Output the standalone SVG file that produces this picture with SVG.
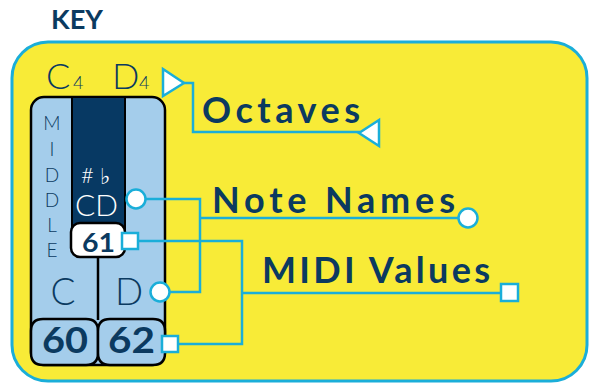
<svg xmlns="http://www.w3.org/2000/svg" width="589" height="383" viewBox="0 0 589 383">
<style>
.lbl{font-family:"Lato","Liberation Sans",sans-serif;font-weight:700;fill:#0b3a60;}
.thin{font-family:"Lato","Open Sans",sans-serif;font-weight:300;fill:#0b3a60;}
.thinw{font-family:"Lato","Open Sans",sans-serif;font-weight:300;fill:#ffffff;}
.num{font-family:"Lato","Liberation Sans",sans-serif;font-weight:700;fill:#0b3a60;}
.con{fill:none;stroke:#1aaed9;stroke-width:2.5;}
.end{fill:#ffffff;stroke:#1aaed9;stroke-width:2.5;}
.edge{stroke:#000;stroke-width:2.5;}
</style>
<rect width="589" height="383" fill="#ffffff"/>
<text class="lbl" x="51" y="29" font-size="27" textLength="52" lengthAdjust="spacingAndGlyphs">KEY</text>
<g id="panel">
<rect x="12" y="42" width="575" height="339" rx="36" fill="#f8eb37" stroke="#1aaed9" stroke-width="3"/>
</g>
<g id="octave-labels">
<text class="thin" x="46" y="89" font-size="36">C</text>
<text class="thin" x="73" y="89" font-size="18">4</text>
<text class="thin" x="112" y="89" font-size="36">D</text>
<text class="thin" x="139" y="89" font-size="18">4</text>
</g>
<g id="keys">
<rect x="31" y="97" width="134" height="268" rx="13" fill="#a4cdeb" class="edge"/>
<rect x="72" y="97" width="53" height="140" fill="#073963" stroke="#000" stroke-width="2"/>
<line x1="98" y1="255" x2="98" y2="320" class="edge"/>
<path d="M31 331 Q31 319 43 319 H86 Q98 319 98 331 V353 Q98 365 86 365 H43 Q31 365 31 353 Z" fill="#a4cdeb" class="edge"/>
<path d="M98 331 Q98 319 110 319 H153 Q165 319 165 331 V353 Q165 365 153 365 H110 Q98 365 98 353 Z" fill="#a4cdeb" class="edge"/>
<rect x="71" y="223" width="54" height="34" rx="9" fill="#ffffff" class="edge"/>
<g class="thin" font-size="19" text-anchor="middle">
<text x="52" y="130">M</text>
<text x="52" y="156">I</text>
<text x="52" y="182">D</text>
<text x="52" y="207">D</text>
<text x="52" y="232">L</text>
<text x="52" y="257">E</text>
</g>
<text class="thin" x="63" y="305" font-size="37" text-anchor="middle">C</text>
<text class="thin" x="129" y="305" font-size="37" text-anchor="middle">D</text>
<text class="thinw" x="81" y="183" font-size="22">#</text>
<text class="thinw" x="100" y="184" font-size="22">♭</text>
<text class="thinw" x="75" y="216" font-size="29" textLength="43" lengthAdjust="spacingAndGlyphs">CD</text>
<text class="num" x="82" y="252" font-size="27" textLength="33" lengthAdjust="spacingAndGlyphs">61</text>
<text class="num" x="42" y="353" font-size="36" textLength="46" lengthAdjust="spacingAndGlyphs">60</text>
<text class="num" x="108" y="353" font-size="36" textLength="47" lengthAdjust="spacingAndGlyphs">62</text>
</g>
<g id="connectors">
<path class="con" d="M184 83 H193 V132 H360"/>
<path class="con" d="M146 199 H200 V292 H170"/>
<path class="con" d="M200 218 H458"/>
<path class="con" d="M139 241 H242 V344 H161"/>
<path class="con" d="M242 293 H501"/>
</g>
<g id="markers">
<path class="end" d="M163 69 L184 83 L163 96 Z"/>
<path class="end" d="M379 120 L359 133 L379 146 Z"/>
<circle class="end" cx="136" cy="199" r="9.5"/>
<circle class="end" cx="160" cy="292" r="9.5"/>
<circle class="end" cx="468" cy="218" r="9.5"/>
<rect class="end" x="122" y="233" width="16" height="16"/>
<rect class="end" x="162" y="336" width="16" height="16"/>
<rect class="end" x="501" y="284" width="17" height="17"/>
</g>
<g id="octaves"><text class="lbl" x="202" y="123" font-size="36" textLength="158" lengthAdjust="spacing">Octaves</text></g>
<g id="note-names"><text class="lbl" x="212" y="213" font-size="36" textLength="243" lengthAdjust="spacing">Note Names</text></g>
<g id="midi-values"><text class="lbl" x="262" y="283" font-size="36" textLength="228" lengthAdjust="spacing">MIDI Values</text></g>
</svg>
